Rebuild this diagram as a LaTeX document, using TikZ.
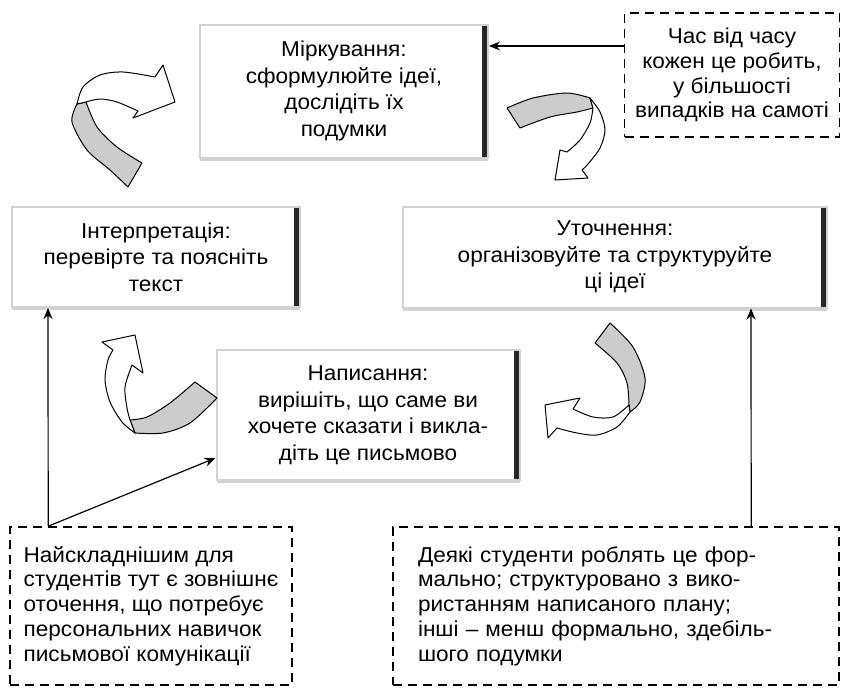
\documentclass[tikz,border=0pt]{standalone}
\usepackage{fontspec}
\setmainfont{Liberation Sans}[FakeStretch=1.05]
\usetikzlibrary{arrows.meta,shadows}

\tikzset{
  phase/.style={rectangle, fill=white, draw=gray!35, line width=2pt, align=center, inner sep=0pt,
    font=\fontsize{21.5}{26.5}\selectfont,
    drop shadow={shadow xshift=0pt, shadow yshift=-3pt, fill=gray!60, opacity=.6},
    path picture={\fill[gray!30!black] ([xshift=-6pt]path picture bounding box.north east)
      rectangle (path picture bounding box.south east);}},
  note/.style={rectangle, draw, line width=1.6pt, dash pattern=on 9pt off 6pt, inner ysep=0pt,
    font=\fontsize{21.5}{24.8}\selectfont},
  flow/.style={-{Stealth[length=11pt,width=9pt]}, line width=1.2pt},
  backband/.style={draw, line width=1pt, fill=gray!40, line join=round},
  frontband/.style={draw, line width=1pt, fill=white, line join=round}
}

\begin{document}
\begin{tikzpicture}[x=1pt, y=-1pt]
  \useasboundingbox (0,0) rectangle (841,688);

  % phases of the cycle
  \node[phase, minimum width=288pt, minimum height=133pt] (mirk) at (344,91)
    {Міркування:\\сформулюйте ідеї,\\дослідіть їх\\подумки};
  \node[phase, minimum width=288pt, minimum height=100pt] (interp) at (156,257)
    {Інтерпретація:\\перевірте та поясніть\\текст};
  \node[phase, minimum width=424pt, minimum height=101pt] (utoch) at (615,257)
    {Уточнення:\\організовуйте та структуруйте\\ці ідеї};
  \node[phase, minimum width=303pt, minimum height=130pt] (napys) at (368,415)
    {Написання:\\вирішіть, що саме ви\\хочете сказати і викла-\\діть це письмово};

  % notes
  \node[note, align=center, minimum width=215pt, minimum height=124pt] (chas) at (732,75)
    {Час від часу\\кожен це робить,\\у більшості\\випадків на самоті};
  \node[note, align=left, minimum width=282pt, minimum height=158pt] (hard) at (151,606)
    {Найскладнішим для\\студентів тут є зовнішнє\\оточення, що потребує\\персональних навичок\\письмової комунікації};
  \node[note, align=left, text width=396pt, inner xsep=25pt, minimum height=158pt] (formal) at (616,606)
    {Деякі студенти роблять це фор-\\мально; структуровано з вико-\\ристанням написаного плану;\\інші -- менш формально, здебіль-\\шого подумки};

  % connectors
  \draw[flow] ([yshift=29pt]chas.west) -- ([yshift=45pt]mirk.east);
  \draw[flow] ([xshift=39pt]hard.north west) -- ([xshift=37pt]interp.south west);
  \draw[flow] ([xshift=39pt]hard.north west) -- ([yshift=-43pt]napys.west);
  \draw[flow] ([xshift=359pt]formal.north west) -- ([xshift=349pt]utoch.south west);

  % twisted arrows
  \filldraw[backband] (128,187) -- (142,163)
    -- plot[smooth] coordinates {(142,163) (117,147) (97,127) (86,102)}
    -- (77,104) -- plot[smooth] coordinates {(77,104) (72,122) (87,150) (110,170) (128,187)} -- cycle;
  \filldraw[frontband] (77,104)
    -- plot[smooth] coordinates {(77,104) (83,87) (100,75) (123,72) (155,77)}
    -- (163,65) -- (175,102) -- (133,118) -- (138,111)
    -- plot[smooth] coordinates {(138,111) (117,102) (100,99) (86,102)} -- cycle;

  \filldraw[backband] (507,108)
    -- plot[smooth] coordinates {(507,108) (533,98) (567,93) (590,98)}
    -- (593,108) -- plot[smooth] coordinates {(593,108) (577,112) (550,117) (520,128)} -- cycle;
  \filldraw[frontband] (590,98)
    -- plot[smooth] coordinates {(590,98) (600,112) (605,130) (600,148) (588,164) (582,170)}
    -- (588,178) -- (555,180) -- (560,150) -- (567,152)
    -- plot[smooth] coordinates {(567,152) (580,140) (590,123) (593,108)} -- cycle;

  \filldraw[backband] (195,382) -- (217,398)
    -- plot[smooth] coordinates {(217,398) (190,423) (163,433) (135,433)}
    -- (130,420) -- plot[smooth] coordinates {(130,420) (147,417) (170,403) (195,382)} -- cycle;
  \filldraw[frontband] (135,433)
    -- plot[smooth] coordinates {(135,433) (122,422) (110,402) (105,380) (108,360) (113,350)}
    -- (102,342) -- (135,335) -- (143,373) -- (132,365)
    -- plot[smooth] coordinates {(132,365) (125,387) (127,408) (130,420)} -- cycle;

  \filldraw[backband] (595,343) -- (610,323)
    -- plot[smooth] coordinates {(610,323) (633,347) (645,378) (640,402) (630,412)}
    -- (629,405) -- plot[smooth] coordinates {(629,405) (627,383) (617,363) (595,343)} -- cycle;
  \filldraw[frontband] (630,412)
    -- plot[smooth] coordinates {(630,412) (617,427) (597,435) (577,433) (557,428)}
    -- (548,438) -- (545,405) -- (580,398) -- (573,409)
    -- plot[smooth] coordinates {(573,409) (593,417) (613,417) (629,405)} -- cycle;
\end{tikzpicture}
\end{document}
